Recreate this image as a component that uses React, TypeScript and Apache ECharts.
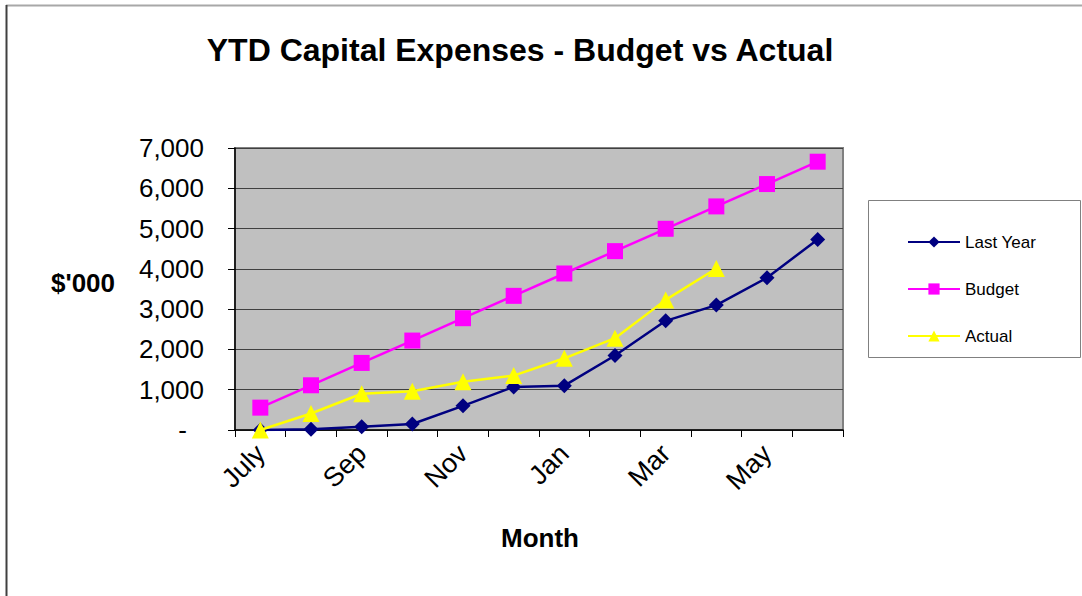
import React, { useEffect, useRef } from "react";
import * as echarts from "echarts";

const months = ["July", "Aug", "Sep", "Oct", "Nov", "Dec", "Jan", "Feb", "Mar", "Apr", "May", "Jun"];
const lastYear = [0, 20, 80, 150, 600, 1070, 1100, 1850, 2710, 3100, 3780, 4730];
const budget = [555, 1110, 1665, 2220, 2775, 3330, 3885, 4440, 4995, 5550, 6105, 6660];
const actual = [0, 410, 900, 960, 1200, 1350, 1780, 2280, 3230, 4010];
const yTicks = [0, 1000, 2000, 3000, 4000, 5000, 6000, 7000];

const FONT = "Arial, 'Liberation Sans', Helvetica, sans-serif";

export default function App() {
  const ref = useRef<HTMLDivElement>(null);
  useEffect(() => {
    document.body.style.margin = "0";
    if (!ref.current) return;
    const chart = echarts.init(ref.current, undefined, { renderer: "svg" });
    chart.setOption({
      animation: false,
      backgroundColor: "#ffffff",
      textStyle: { fontFamily: FONT },
      grid: {
        left: 235,
        top: 148,
        width: 608,
        height: 282,
        show: true,
        backgroundColor: "#c0c0c0",
        borderColor: "#808080",
        borderWidth: 2,
      },
      xAxis: {
        type: "category",
        data: months,
        boundaryGap: true,
        axisLine: { lineStyle: { color: "#000000", width: 1.5 } },
        axisTick: { show: true, interval: 0, length: 7, lineStyle: { color: "#000000" } },
        axisLabel: {
          interval: 1,
          rotate: 45,
          fontSize: 27,
          color: "#000000",
          fontFamily: FONT,
          margin: 19,
        },
        splitLine: { show: false },
      },
      yAxis: {
        type: "value",
        min: yTicks[0],
        max: yTicks[yTicks.length - 1],
        interval: 1000,
        axisLine: { show: true, lineStyle: { color: "#000000", width: 1.5 } },
        axisTick: { show: true, length: 7, lineStyle: { color: "#000000" } },
        axisLabel: {
          fontSize: 26,
          color: "#000000",
          fontFamily: FONT,
          margin: 31,
          formatter: (v: number) => (v === 0 ? "{d|-}" : v.toLocaleString("en-US")),
          rich: { d: { fontSize: 26, fontFamily: FONT, color: "#000000", padding: [0, 17, 0, 0] } },
        },
        splitLine: { show: true, lineStyle: { color: "#404040", width: 1 } },
      },
      legend: {
        orient: "vertical",
        left: 902,
        top: 228,
        itemWidth: 52,
        itemHeight: 14,
        itemGap: 29,
        textStyle: { fontSize: 17, color: "#000000", fontFamily: FONT, lineHeight: 18 },
        data: ["Last Year", "Budget", "Actual"],
      },
      graphic: [
        { type: "line", shape: { x1: 6, y1: 5.5, x2: 1082, y2: 5.5 }, style: { stroke: "#a8a8a8", lineWidth: 2 } },
        { type: "line", shape: { x1: 6.5, y1: 5, x2: 6.5, y2: 596 }, style: { stroke: "#404040", lineWidth: 2 } },
        {
          type: "rect",
          shape: { x: 868.5, y: 200.5, width: 212, height: 157 },
          style: { fill: "none", stroke: "#808080", lineWidth: 1 },
        },
        {
          type: "text",
          x: 520,
          y: 50,
          style: {
            text: "YTD Capital Expenses - Budget vs Actual",
            font: `bold 32px ${FONT}`,
            fill: "#000000",
            textAlign: "center",
            textVerticalAlign: "middle",
          },
        },
        {
          type: "text",
          x: 83,
          y: 283,
          style: {
            text: "$'000",
            font: `bold 26px ${FONT}`,
            fill: "#000000",
            textAlign: "center",
            textVerticalAlign: "middle",
          },
        },
        {
          type: "text",
          x: 540,
          y: 538,
          style: {
            text: "Month",
            font: `bold 26px ${FONT}`,
            fill: "#000000",
            textAlign: "center",
            textVerticalAlign: "middle",
          },
        },
      ],
      series: [
        {
          name: "Last Year",
          type: "line",
          data: lastYear,
          symbol: "diamond",
          symbolSize: 15,
          lineStyle: { color: "#000080", width: 2.5 },
          itemStyle: { color: "#000080" },
          z: 3,
        },
        {
          name: "Budget",
          type: "line",
          data: budget,
          symbol: "rect",
          symbolSize: 16,
          lineStyle: { color: "#ff00ff", width: 2.5 },
          itemStyle: { color: "#ff00ff" },
          z: 2,
        },
        {
          name: "Actual",
          type: "line",
          data: actual,
          symbol: "triangle",
          symbolSize: 17,
          lineStyle: { color: "#ffff00", width: 2.5 },
          itemStyle: { color: "#ffff00" },
          z: 4,
        },
      ],
    });
    return () => chart.dispose();
  }, []);
  return <div ref={ref} style={{ width: 1082, height: 596 }} />;
}
